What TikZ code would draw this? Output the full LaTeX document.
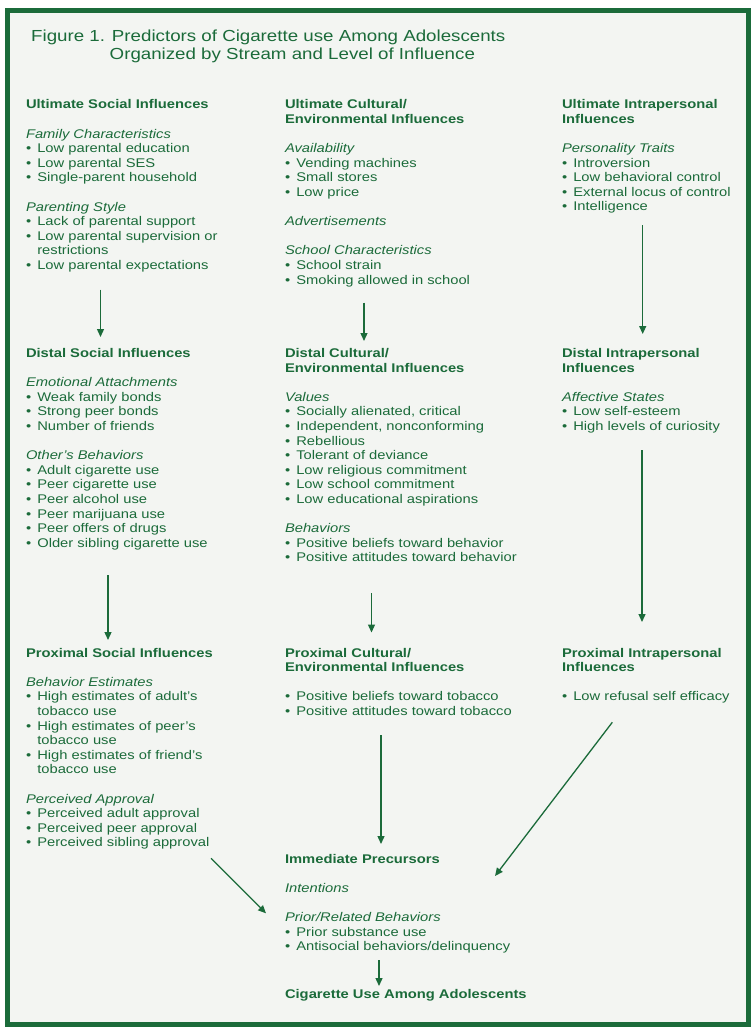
\documentclass[tikz,border=0pt]{standalone}
\usepackage{fontspec}
\setmainfont{Liberation Sans}[FakeStretch=1.17]
\usetikzlibrary{arrows.meta}
\definecolor{dg}{HTML}{1B6B3A}
\definecolor{bgc}{HTML}{F3F5F2}
\newcommand\bu{\makebox[11.3pt][l]{•}}
\newcommand\ind{\hspace*{11.3pt}}
\newcommand\fl{\rule{0pt}{10pt}}
\newcommand\gp{\\[14.6pt]}
\tikzset{
  txt/.style={anchor=north west, inner sep=0pt, outer sep=0pt, align=left, text=dg,
    font=\fontsize{12.6}{14.6}\selectfont},
  ttl/.style={anchor=base west, inner sep=0pt, text=dg, font=\fontsize{16}{18}\selectfont},
  arr/.style={draw=dg, line width=1.3pt, -{Triangle[length=8pt,width=7pt]}}
}
\begin{document}
\begin{tikzpicture}[x=1pt,y=-1pt]
\useasboundingbox (0,0) rectangle (754,1027);
\fill[white] (0,0) rectangle (754,1027);
\filldraw[fill=bgc, draw=dg, line width=5pt] (7.5,10.5) rectangle (748.5,1024.5);

% title
\node[ttl] (t1) at (31,41.5) {Figure 1. Predictors of Cigarette use Among Adolescents};
\node[ttl] (t2) at (109.5,59.5) {Organized by Stream and Level of Influence};

% column 1
\node[txt] (us) at (26,98.8) {\fl\textbf{Ultimate Social Influences}\gp
\textit{Family Characteristics}\\
\bu Low parental education\\
\bu Low parental SES\\
\bu Single-parent household\gp
\textit{Parenting Style}\\
\bu Lack of parental support\\
\bu Low parental supervision or\\
\ind restrictions\\
\bu Low parental expectations};

\node[txt] (ds) at (26,347.5) {\fl\textbf{Distal Social Influences}\gp
\textit{Emotional Attachments}\\
\bu Weak family bonds\\
\bu Strong peer bonds\\
\bu Number of friends\gp
\textit{Other's Behaviors}\\
\bu Adult cigarette use\\
\bu Peer cigarette use\\
\bu Peer alcohol use\\
\bu Peer marijuana use\\
\bu Peer offers of drugs\\
\bu Older sibling cigarette use};

\node[txt] (ps) at (26,647) {\fl\textbf{Proximal Social Influences}\gp
\textit{Behavior Estimates}\\
\bu High estimates of adult's\\
\ind tobacco use\\
\bu High estimates of peer's\\
\ind tobacco use\\
\bu High estimates of friend's\\
\ind tobacco use\gp
\textit{Perceived Approval}\\
\bu Perceived adult approval\\
\bu Perceived peer approval\\
\bu Perceived sibling approval};

% column 2
\node[txt] (uc) at (285,98.8) {\fl\textbf{Ultimate Cultural/}\\
\textbf{Environmental Influences}\gp
\textit{Availability}\\
\bu Vending machines\\
\bu Small stores\\
\bu Low price\gp
\textit{Advertisements}\gp
\textit{School Characteristics}\\
\bu School strain\\
\bu Smoking allowed in school};

\node[txt] (dc) at (285,347.5) {\fl\textbf{Distal Cultural/}\\
\textbf{Environmental Influences}\gp
\textit{Values}\\
\bu Socially alienated, critical\\
\bu Independent, nonconforming\\
\bu Rebellious\\
\bu Tolerant of deviance\\
\bu Low religious commitment\\
\bu Low school commitment\\
\bu Low educational aspirations\gp
\textit{Behaviors}\\
\bu Positive beliefs toward behavior\\
\bu Positive attitudes toward behavior};

\node[txt] (pc) at (285,647) {\fl\textbf{Proximal Cultural/}\\
\textbf{Environmental Influences}\gp
\bu Positive beliefs toward tobacco\\
\bu Positive attitudes toward tobacco};

\node[txt] (ip) at (285,853) {\fl\textbf{Immediate Precursors}\gp
\textit{Intentions}\gp
\textit{Prior/Related Behaviors}\\
\bu Prior substance use\\
\bu Antisocial behaviors/delinquency};

\node[txt] (cu) at (285,988) {\fl\textbf{Cigarette Use Among Adolescents}};

% column 3
\node[txt] (ui) at (562,98.8) {\fl\textbf{Ultimate Intrapersonal}\\
\textbf{Influences}\gp
\textit{Personality Traits}\\
\bu Introversion\\
\bu Low behavioral control\\
\bu External locus of control\\
\bu Intelligence};

\node[txt] (di) at (562,347.5) {\fl\textbf{Distal Intrapersonal}\\
\textbf{Influences}\gp
\textit{Affective States}\\
\bu Low self-esteem\\
\bu High levels of curiosity};

\node[txt] (pi) at (562,647) {\fl\textbf{Proximal Intrapersonal}\\
\textbf{Influences}\gp
\bu Low refusal self efficacy};

% arrow end points
\coordinate (a1s) at (100.5,289.5); \coordinate (a1e) at (100.5,337);
\coordinate (a2s) at (364,302.5);   \coordinate (a2e) at (364,341);
\coordinate (a3s) at (642.7,225);   \coordinate (a3e) at (642.7,334);
\coordinate (a4s) at (108,575);     \coordinate (a4e) at (108,640);
\coordinate (a5s) at (371.5,593);   \coordinate (a5e) at (371.5,632.5);
\coordinate (a6s) at (642,450);     \coordinate (a6e) at (642,622);
\coordinate (a7s) at (381,735);     \coordinate (a7e) at (381,844);
\coordinate (a8s) at (612.3,722.3); \coordinate (a8e) at (495,876);
\coordinate (a9s) at (211,858.3);   \coordinate (a9e) at (266,913.3);
\coordinate (a10s) at (379,960);    \coordinate (a10e) at (379,986);

\draw[arr] (a1s) -- (a1e);
\draw[arr] (a2s) -- (a2e);
\draw[arr] (a3s) -- (a3e);
\draw[arr] (a4s) -- (a4e);
\draw[arr] (a5s) -- (a5e);
\draw[arr] (a6s) -- (a6e);
\draw[arr] (a7s) -- (a7e);
\draw[arr] (a8s) -- (a8e);
\draw[arr] (a9s) -- (a9e);
\draw[arr] (a10s) -- (a10e);
\end{tikzpicture}
\end{document}
